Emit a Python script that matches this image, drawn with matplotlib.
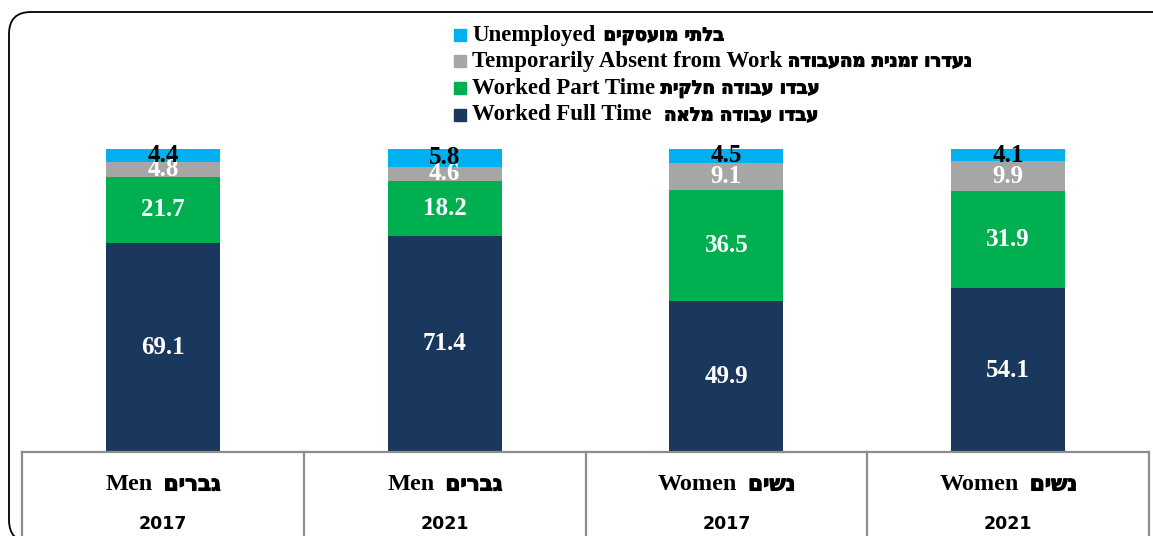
import matplotlib
matplotlib.use("Agg")
import matplotlib.pyplot as plt
import matplotlib.patheffects as pe
from matplotlib.patches import FancyBboxPatch, Rectangle
from matplotlib.transforms import IdentityTransform
from matplotlib.lines import Line2D
from matplotlib.offsetbox import TextArea, HPacker, AnnotationBbox

# ---- data ----
groups_en = ["Men", "Men", "Women", "Women"]
groups_he = ["גברים", "גברים", "נשים", "נשים"]
years = ["2017", "2021", "2017", "2021"]
full_time = [69.1, 71.4, 49.9, 54.1]
part_time = [21.7, 18.2, 36.5, 31.9]
temp_absent = [4.8, 4.6, 9.1, 9.9]
unemployed = [4.4, 5.8, 4.5, 4.1]

series_en = ["Worked Full Time", "Worked Part Time", "Temporarily Absent from Work", "Unemployed"]
series_he = ["עבדו עבודה מלאה", "עבדו עבודה חלקית", "נעדרו זמנית מהעבודה", "בלתי מועסקים"]
colors = ["#1A375E", "#00B050", "#A6A6A6", "#00B0F0"]
label_colors = ["white", "white", "white", "black"]


def vis(he):
    # matplotlib has no bidi: put Hebrew in visual (left-to-right) order
    return he[::-1]


W, H = 1153, 536
fig = plt.figure(figsize=(W / 100, H / 100), dpi=100)

SERIF = ["Liberation Serif", "DejaVu Serif", "DejaVu Sans"]
HEB = ["DejaVu Sans", "Liberation Sans"]
heb_effect = [pe.withStroke(linewidth=0.8, foreground="black")]

ax_left, ax_right, ax_top, ax_bot = 22, 1149, 149, 452
ax = fig.add_axes([ax_left / W, (H - ax_bot) / H, (ax_right - ax_left) / W, (ax_bot - ax_top) / H])
ax.set_xlim(-0.5, 3.5)
ax.set_ylim(0, 100)
ax.axis("off")

x = list(range(len(years)))
stack = [full_time, part_time, temp_absent, unemployed]
bottom = [0.0] * len(x)
for vals, c, lc in zip(stack, colors, label_colors):
    ax.bar(x, vals, width=0.405, bottom=bottom, color=c, edgecolor="none")
    for xi, v, b in zip(x, vals, bottom):
        ax.text(xi, b + v / 2, f"{v:.1f}", ha="center", va="center", color=lc,
                fontsize=18, fontweight="bold", family=SERIF)
    bottom = [b + v for b, v in zip(bottom, vals)]

# overlay axes for figure-level annotations
ov = fig.add_axes([0, 0, 1, 1])
ov.axis("off")
ov.set_zorder(5)


def mixed_label(en, he, xy_px, align, en_size, he_size, sep):
    boxes = [TextArea(en, textprops=dict(fontsize=en_size, fontweight="bold", family=SERIF)),
             TextArea(vis(he), textprops=dict(fontsize=he_size, fontweight="bold", family=HEB,
                                               path_effects=heb_effect))]
    pack = HPacker(children=boxes, align="baseline", pad=0, sep=sep)
    ab = AnnotationBbox(pack, xy_px, xycoords="figure pixels", box_alignment=align,
                        frameon=False, pad=0)
    ov.add_artist(ab)


# ---- legend (manual) ----
ident = IdentityTransform()
rows_y = [115, 88, 61, 35]
seps = [9, 4, 4, 6]
for en, he, c, yy, s in zip(series_en, series_he, colors, rows_y, seps):
    fig.add_artist(Rectangle((454, H - yy - 6), 12, 12, transform=ident, color=c))
    mixed_label(en, he, (472, H - yy), (0, 0.5), 16.5, 13, s)

# ---- table under bars ----
gray = "#8C8C8C"
cell_w = (ax_right - ax_left) / 4
fig.add_artist(Line2D([ax_left, ax_right], [H - ax_bot, H - ax_bot], transform=ident,
                      color=gray, lw=1.6))
for i in range(5):
    xx = ax_left + i * cell_w
    fig.add_artist(Line2D([xx, xx], [H - ax_bot, -5], transform=ident, color=gray, lw=1.6))
for i in range(4):
    cx = ax_left + (i + 0.5) * cell_w
    mixed_label(groups_en[i], groups_he[i], (cx, H - 485), (0.5, 0.5), 17.5, 15.5, 8)
    fig.text(cx / W, (H - 524) / H, years[i], ha="center", va="center",
             fontsize=12.5, fontweight="bold", family=["DejaVu Sans"])

# ---- rounded outer frame ----
frame = FancyBboxPatch((9, -6), 1200, H - 12 + 6, boxstyle="round,pad=0,rounding_size=22",
                       transform=ident, fill=False, edgecolor="black", lw=1.3)
fig.add_artist(frame)

fig.savefig("out.png", dpi=100)
